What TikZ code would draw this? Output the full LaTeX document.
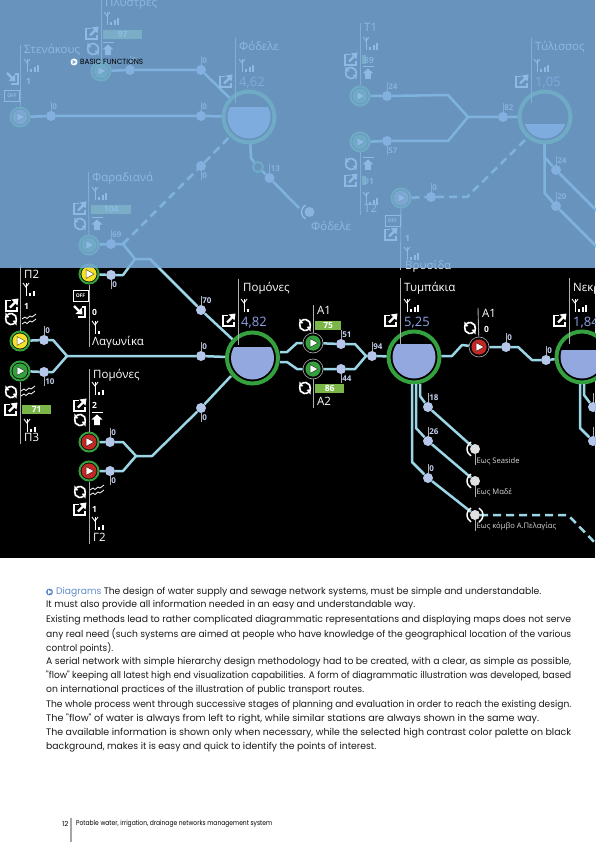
\documentclass[tikz,border=0pt]{standalone}
\usepackage{fontspec}
\usepackage{graphicx}
\setmainfont{Open Sans}
\newfontfamily\bodyfont{Poppins}
\usetikzlibrary{arrows.meta}
\definecolor{pipecol}{RGB}{156,214,230}
\definecolor{gaugecol}{RGB}{180,198,234}
\definecolor{tankcol}{RGB}{146,168,222}
\definecolor{valuecol}{RGB}{142,163,230}
\definecolor{labelcol}{RGB}{195,208,240}
\definecolor{ringcol}{RGB}{52,160,62}
\definecolor{barcol}{RGB}{122,182,72}
\definecolor{stemcol}{RGB}{175,175,175}
\definecolor{veilcol}{RGB}{123,173,222}
\definecolor{bluetext}{RGB}{96,140,200}
\definecolor{offcol}{RGB}{140,140,140}
\definecolor{yellowcol}{RGB}{245,225,40}
\definecolor{redcol}{RGB}{196,40,36}
\begin{document}
\begin{tikzpicture}[x=1pt, y=-1pt,
    every node/.style={inner sep=0pt, font=\fontsize{8}{9}\selectfont},
    pipe/.style={pipecol, line width=2.5pt, line join=round},
    dashpipe/.style={pipe, dash pattern=on 8pt off 5pt},
    stem/.style={stemcol, line width=0.9pt},
    tick/.style={stemcol, line width=0.7pt},
    gauge/.style={circle, fill=gaugecol, minimum size=10pt},
    gaugetext/.style={text=labelcol, font=\fontsize{8}{9}\selectfont\bfseries, right=1pt},
    pump/.style={circle, draw=ringcol, line width=2pt, fill=black, minimum size=19pt,
        path picture={\begin{scope}[shift={(path picture bounding box.center)}]
            \fill[#1] (0,0) circle (7.6pt);
            \filldraw[white, draw=#1!40!black, line width=0.5pt] (-3,-4.5) -- (5,0) -- (-3,4.5) -- cycle;
        \end{scope}}},
    thinpump/.style={pump=#1, draw=stemcol, line width=0.6pt, minimum size=20pt},
    tank/.style={circle, draw=ringcol, line width=4pt, fill=black, minimum size=51pt,
        path picture={\begin{scope}[shift={(path picture bounding box.center)}]
            \clip (-26,#1) rectangle (26,26);
            \fill[tankcol] (0,0) circle (21.5pt);
        \end{scope}}},
    endpoint/.style={circle, fill=black!12, minimum size=10pt},
    bracket/.style={white, line width=1.5pt},
    stationname/.style={anchor=west, text=white, font=\fontsize{11.5}{12}\selectfont, text height=8pt, text depth=2pt},
    tanklevel/.style={anchor=west, text=valuecol, font=\fontsize{13}{14}\selectfont},
    smallvalue/.style={anchor=west, text=white, font=\fontsize{8.5}{9}\selectfont\bfseries},
    endname/.style={anchor=west, text=black!15, font=\fontsize{7.6}{9}\selectfont},
    levelbar/.style={anchor=west, fill=barcol, text=white, minimum height=9pt, inner xsep=2pt, align=left, font=\fontsize{8.5}{9}\selectfont\bfseries},
    offbox/.style={draw=white, line width=0.8pt, text=white, minimum width=15pt, minimum height=11pt, font=\fontsize{5}{5}\selectfont\bfseries},
    signal/.pic={
        \draw[white, line width=0.9pt] (0,-6) -- (0,7);
        \draw[white, line width=0.9pt] (-3,-6) -- (0,-2) -- (3,-6);
        \foreach \b in {1,...,#1} \fill[white] (\b*3.4,7) rectangle ++(1.8,-0.5-\b*2.3);
    },
    share/.pic={
        \draw[white, line width=1.5pt] (-1,-4.5) -- (-6,-4.5) -- (-6,6) -- (5,6) -- (5,2);
        \draw[white, line width=2.2pt] (-2,2.5) -- (3,-2.5);
        \fill[white] (6.5,-6.5) -- (-0.5,-5.5) -- (5.5,0.5) -- cycle;
    },
    intake/.pic={
        \draw[white, line width=1.5pt] (-1,6) -- (6,6) -- (6,-4) -- (2.5,-4);
        \draw[white, line width=2.2pt] (-5,-5) -- (0,0);
        \fill[white] (3.5,3.5) -- (-3.5,2.8) -- (2.8,-3.5) -- cycle;
    },
    recycle/.pic={
        \draw[white, line width=1.7pt] (-10:5.5pt) arc (-10:130:5.5pt);
        \draw[white, line width=1.7pt] (170:5.5pt) arc (170:310:5.5pt);
        \fill[white] (130:8.5pt) -- (130:2.5pt) -- (170:6pt) -- cycle;
        \fill[white] (310:8.5pt) -- (310:2.5pt) -- (350:6pt) -- cycle;
    },
    pushup/.pic={
        \fill[white] (-5.5,-7) rectangle (5.5,-6);
        \fill[white] (0,-4.5) -- (5.5,0.5) -- (2.8,0.5) -- (2.8,6) -- (-2.8,6) -- (-2.8,0.5) -- (-5.5,0.5) -- cycle;
    },
    trend/.pic={
        \draw[white, line width=0.8pt] (-7,-1) -- (-4,-3) -- (-2,-1.5) -- (1,-4) -- (3,-3) -- (7,-6);
        \draw[white, line width=0.8pt] (-7,4) -- (-4,2) -- (-2,3.5) -- (1,1) -- (3,2) -- (7,-1);
    }]
    \useasboundingbox (0,0) rectangle (595,842);
    \fill[black] (0,0) rectangle (595,558);

    % Tanks
    \node[tank=-9]  (tFodele)   at (249,117) {};
    \node[tank=8]   (tTylissos) at (545,117) {};
    \node[tank=-11] (tPomones)  at (252.5,358) {};
    \node[tank=-13] (tTympakia) at (414,357) {};
    \node[tank=-7]  (tNekr)     at (582,357) {};

    % Pumps
    \node[pump=offcol] (pSten) at (20,117) {};
    \node[pump=ringcol]  (pPlys) at (101,71) {};
    \node[pump=ringcol]  (pFar)  at (89,245) {};
    \node[pump=ringcol]  (pT1)   at (360,96) {};
    \node[pump=ringcol]  (pT2)   at (360,142) {};
    \node[pump=offcol] (pVry)  at (401,198) {};
    \node[pump=yellowcol] (pLag) at (89,274) {};
    \node[pump=yellowcol] (pP2)  at (20,341) {};
    \node[pump=ringcol]  (pP3)   at (20,371) {};
    \node[pump=redcol] (pG1) at (89,442) {};
    \node[pump=redcol] (pG2) at (89,471) {};
    \node[thinpump=ringcol] (pA1) at (313,343) {};
    \node[thinpump=ringcol] (pA2) at (313,369) {};
    \node[thinpump=redcol] (pA3) at (479,347) {};

    % Gauges with their values
    \foreach \name/\x/\y/\txt/\s in {gStenA/51/116/0/-1, gStenB/201/116/0/-1, gPlysA/130/70/0/-1, gPlysB/201/70/0/-1,
        gFarA/111/244/69/-1, gFarB/201/166/0/1, gFod/269.5/178/13/-1, gT1/387/96/24/-1, gT2/387/141/57/1,
        gTyl/503/117/82/-1, gVry/431/197/0/-1, gOutA/556/170/24/-1, gOutB/556/206/20/-1,
        gLag/111/275/0/1, gPomA/201/310/70/-1, gPomB/201/356/0/-1, gPomC/201/408/0/1, gP2/44/340/0/-1, gP3/44/372/10/1,
        gG1/110/442/0/-1, gG2/110/471/0/1, gA1/341/344/51/-1, gA2/341/369/44/1, gTym/372/356/94/-1,
        gSea/428/407/18/-1, gMad/428/441/26/-1, gKom/428/478/0/-1, gA3/506/347/0/-1, gNek/546/360/0/-1,
        gNekA/593/407/{}/-1, gNekB/593/441/{}/-1} {
        \node[gauge] (\name) at (\x,\y) {};
        \draw[tick] (\name) -- ++(0,\s*14) node[midway, gaugetext] {\txt};
    }

    % Joints of the pipes
    \coordinate (jFar) at (123,244);
    \coordinate (jLag) at (123,275);
    \coordinate (jUpA) at (135,259);
    \coordinate (jUpB) at (150,259);
    \coordinate (jP) at (67,356);
    \coordinate (jT) at (468,117);
    \coordinate (jG1) at (123,442);
    \coordinate (jG2) at (123,471);
    \coordinate (jGA) at (136,456);
    \coordinate (jGB) at (152,456);
    \coordinate (jAo) at (366,356);

    % Top network
    \draw[pipe] (pSten) -- (gStenA) -- (gStenB) -- (tFodele);
    \draw[pipe] (pPlys) -- (gPlysA) -- (gPlysB) -- (tFodele);
    \draw[pipe] (pFar) -- (gFarA) -- (jFar) -- (jUpA) -- (jUpB) -- (gPomA) -- (tPomones);
    \draw[dashpipe] (jFar) -- (gFarB);
    \draw[dashpipe] (gFarB) -- (tFodele);
    \node[circle, draw=ringcol, line width=2pt, fill=black, minimum size=10pt] (vFod) at (258,167) {};
    \node[endpoint] (eFod) at (309.5,212) {};
    \draw[pipe] (tFodele) -- (251,158) -- (vFod) -- (gFod) -- (299,208);
    \draw[pipe] (pT1) -- (gT1) -- (448,95) -- (jT);
    \draw[pipe] (pT2) -- (gT2) -- (448,141) -- (jT) -- (gTyl) -- (tTylissos);
    \draw[dashpipe] (pVry) -- (gVry) -- (467,197) -- (525,140);
    \draw[pipe] (544.5,144) -- (544.5,157) -- (gOutA) -- (600,214);
    \draw[pipe] (544.5,144) -- (544.5,193) -- (gOutB) -- (600,250);

    % Lower network
    \draw[pipe] (pLag) -- (gLag) -- (jLag) -- (jUpA);
    \draw[pipe] (pP2) -- (gP2) -- (53,340) -- (jP) -- (gPomB) -- (tPomones);
    \draw[pipe] (pP3) -- (gP3) -- (53,372) -- (jP);
    \draw[pipe] (pG1) -- (gG1) -- (jG1) -- (jGA) -- (jGB) -- (gPomC) -- (231,376);
    \draw[pipe] (pG2) -- (gG2) -- (jG2) -- (jGA);
    \draw[pipe] (280,352) -- (287,352) -- (297,343) -- (pA1) -- (gA1) -- (355,344) -- (jAo);
    \draw[pipe] (280,362) -- (287,362) -- (297,369) -- (pA2) -- (gA2) -- (355,369) -- (jAo) -- (gTym) -- (tTympakia);

    % Outlets of Tympakia
    \node[endpoint] (eSea) at (475,449) {};
    \node[endpoint] (eMad) at (475,481) {};
    \node[endpoint] (eKom) at (475,515) {};
    \draw[pipe] (420,384) -- (420,396) -- (gSea) -- (eSea);
    \draw[pipe] (416,384) -- (416,428) -- (gMad) -- (eMad);
    \draw[pipe] (412,384) -- (412,462) -- (gKom) -- (eKom);
    \draw[dashpipe] (eKom) -- (568,515) -- (600,548);
    \draw[pipe] (tTympakia) -- (443,356) -- (452,356) -- (462,345) -- (pA3) -- (gA3) -- (518,347) -- (532,360) -- (gNek) -- (tNekr);
    \draw[pipe] (584,384) -- (584,395) -- (gNekA);
    \draw[pipe] (580,384) -- (580,428) -- (gNekB);

    % Brackets of the end points
    \foreach \e in {eFod, eSea, eMad, eKom}
        \draw[bracket] ([shift={(120:8pt)}]\e.center) arc (120:240:8pt);
    \draw[bracket] ([shift={(-60:8pt)}]eKom.center) arc (-60:60:8pt);
    \foreach \e in {eSea, eMad, eKom}
        \draw[tick] (\e) -- ++(0,16);
    \foreach \name/\y/\txt in {lSea/461/Εως Seaside, lMad/492/Εως Μαδέ, lKom/526/Εως κόμβο Α.Πελαγίας}
        \node[endname] (\name) at (476.5,\y) {\txt};

    % Leader lines of the stations
    \draw[stem] (pSten) -- (20,45);
    \draw[stem] (pPlys) -- (101,0);
    \draw[stem] (pFar) -- (88.5,172);
    \draw[stem] (pT1) -- (360,23);
    \draw[stem] (pT2) -- (360,215);
    \draw[stem] (pVry) -- (400.5,270);
    \draw[stem] (pLag) -- (89,347);
    \draw[stem] (pP2) -- (20,265);
    \draw[stem] (pP3) -- (20,444);
    \draw[stem] (pG1) -- (89,369);
    \draw[stem] (pG2) -- (89,544);
    \draw[stem] (pA1) -- (313,305);
    \draw[stem] (pA2) -- (313,408);
    \draw[stem] (pA3) -- (478,308);
    \foreach \x/\a/\b in {235/38/103, 531.5/38/103, 238/279/345, 400.5/278/344, 569/278/344}
        \draw[stem] (\x,\a) -- (\x,\b);

    % Names
    \foreach \name/\x/\y/\txt in {nSten/24/51/Στενάκους, nPlys/105/4/Πλύστρες, nFod/239/48/Φόδελε, nFar/92/179/Φαραδιανά,
        nT1/364/29/Τ1, nT2/364/209/Τ2, nTyl/535/48/Τύλισσος, nVry/405/266/Βρυσίδα, nEnd/311/227/Φόδελε,
        nP2/24/275/Π2, nP3/24/438/Π3, nLag/92/342/Λαγωνίκα, nPom/93/375/Πομόνες, nG2/93/538/Γ2,
        nTank/243/288/Πομόνες, nA1/317/311/Α1, nA2/317/402/Α2, nTym/404/288/Τυμπάκια, nA3/482/314/Α1, nNek/573/288/Νεκρ}
        \node[stationname] (\name) at (\x,\y) {\txt};
    \foreach \name/\x/\txt in {vFod/239/{4,62}, vTyl/535/{1,05}}
        \node[tanklevel] (\name) at (\x,83) {\txt};
    \foreach \name/\x/\txt in {vPom/241/{4,82}, vTym/404/{5,25}, vNek/573/{1,84}}
        \node[tanklevel] (\name) at (\x,323) {\txt};
    \foreach \name/\x/\y/\txt in {sSten/26/81/1, sVry/405/238/1, sP2/24/306/1, sLag/92/312/0, sPom/92/405/2, sG2/92/509/1, sA3/484/329/0}
        \node[smallvalue] (\name) at (\x,\y) {\txt};

    % Level bars
    \foreach \name/\x/\y/\w/\txt in {bPlys/103/34.5/39/97, bFar/91/209.5/40/104, bP3/22/409.5/29/71, bA1/315/325.5/26/75, bA2/315/388.5/29/86}
        \node[levelbar, minimum width=\w] (\name) at (\x,\y) {\txt};
    \foreach \name/\y/\txt in {bT1/60/89, bT2/181/91} {
        \fill[barcol] (362,\y-4.5) rectangle (365.5,\y+4.5);
        \node[smallvalue, text=labelcol] (\name) at (364,\y) {\txt};
    }

    % Icons
    \foreach \x/\y/\b in {27/65/3, 107/18/3, 242/65/3, 95/193/3, 366/43/3, 366/198/3, 407/253/3, 537/65/3,
        26/289/2, 27/425/2, 95/327/1, 95/388/2, 95/523/2, 244/305/1, 407/305/3, 575/305/3}
        \pic at (\x,\y) {signal=\b};
    \foreach \x/\y in {92/33, 226/81, 80/208, 351/59, 351/180, 391/234, 522/81, 12/305, 11/409, 80/405, 80/509, 229/320, 391/320, 560/320}
        \pic at (\x,\y) {share};
    \foreach \x/\y in {93/49, 80/224, 351/73, 351/164, 11/319, 11/392, 80/420, 80/492, 305/325, 305/388, 470/328}
        \pic at (\x,\y) {recycle};
    \foreach \x/\y in {108/49, 97/224, 368/73, 368/164, 97/419}
        \pic at (\x,\y) {pushup};
    \foreach \x/\y in {29/320, 28/392, 97/491}
        \pic at (\x,\y) {trend};
    \foreach \x/\y in {12/78, 79/311}
        \pic at (\x,\y) {intake};
    \foreach \name/\x/\y in {oSten/12/96, oVry/392.5/220.5, oLag/80.5/296}
        \node[offbox] (\name) at (\x,\y) {OFF};

    % Blue veil over the upper part
    \fill[veilcol, opacity=0.85] (0,0) rectangle (595,268);

    % Heading on the veil
    \fill[white] (74,62) circle (3.5pt);
    \fill[veilcol] (72.5,59.8) -- (76.3,62) -- (72.5,64.2) -- cycle;
    \node[anchor=west] (heading) at (80,62) {\resizebox{63pt}{\height}{\bodyfont\fontsize{7.5}{8}\selectfont BASIC FUNCTIONS}};

    % Text under the diagram
    \fill[bluetext] (49.5,592) circle (3.5pt);
    \fill[white] (48.2,590) -- (52,592) -- (48.2,594) -- cycle;
    \foreach \name/\x/\y/\w/\txt in {
        lineA/56/592/485/{{\color{bluetext}Diagrams} The design of water supply and sewage network systems, must be simple and understandable.},
        lineB/46/605/369/{It must also provide all information needed in an easy and understandable way.},
        lineC/46/620/525/{Existing methods lead to rather complicated diagrammatic representations and displaying maps does not serve},
        lineD/46/634/525/{any real need (such systems are aimed at people who have knowledge of the geographical location of the various},
        lineE/46/648/67/{control points).},
        lineF/46/662/525/{A serial network with simple hierarchy design methodology had to be created, with a clear, as simple as possible,},
        lineG/46/676/525/{"flow" keeping all latest high end visualization capabilities. A form of diagrammatic illustration was developed, based},
        lineH/46/690/318/{on international practices of the illustration of public transport routes.},
        lineI/46/705/525/{The whole process went through successive stages of planning and evaluation in order to reach the existing design.},
        lineJ/46/719/493/{The "flow" of water is always from left to right, while similar stations are always shown in the same way.},
        lineK/46/733/525/{The available information is shown only when necessary, while the selected high contrast color palette on black},
        lineL/46/747/330/{background, makes it is easy and quick to identify the points of interest.}}
        \node[anchor=west, text=black!90] (\name) at (\x,\y) {\resizebox{\w pt}{\height}{\bodyfont\fontsize{9.5}{11}\selectfont\txt}};

    % Footer
    \node[anchor=west] (pageno) at (62,824) {\bodyfont\fontsize{7}{8}\selectfont 12};
    \draw[gray!70, line width=1.5pt] (71,818) -- (71,842);
    \node[anchor=west] (footer) at (76,824) {\resizebox{196pt}{\height}{\bodyfont\fontsize{7}{8}\selectfont Potable water, irrigation, drainage networks management system}};
\end{tikzpicture}
\end{document}
